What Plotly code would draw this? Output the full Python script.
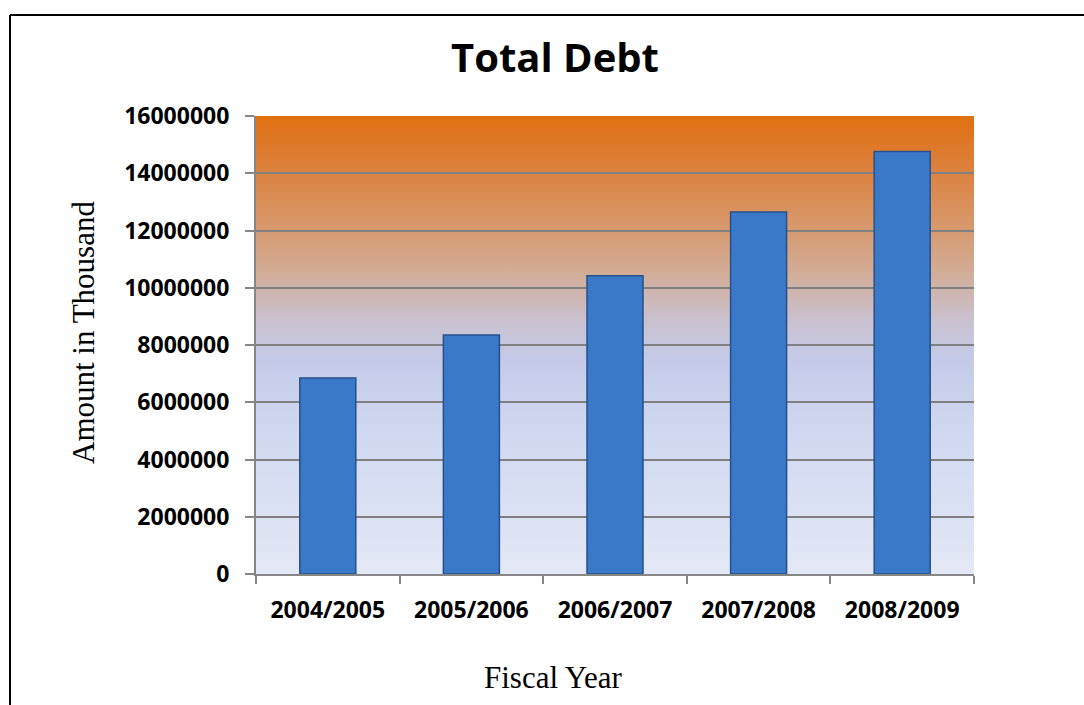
import base64
import plotly.graph_objects as go

categories = ["2004/2005", "2005/2006", "2006/2007", "2007/2008", "2008/2009"]
total_debt = [6850000, 8350000, 10420000, 12650000, 14760000]
y_ticks = [0, 2000000, 4000000, 6000000, 8000000, 10000000, 12000000, 14000000, 16000000]

W, H = 1084, 705
PL, PR, PT, PB = 256, 974, 116, 574  # plot area in pixels

xdom = [PL / W, PR / W]
ydom = [(H - PB) / H, (H - PT) / H]

fig = go.Figure()
fig.add_trace(go.Bar(
    x=categories, y=total_debt, width=0.39,
    marker=dict(color="rgb(58,120,200)", line=dict(color="rgb(38,80,140)", width=1.5)),
    showlegend=False,
))

# background gradient (orange top -> light blue bottom), offsets measured from top
grad_stops = [
    (0.00, "rgb(224,112,16)"),
    (0.10, "rgb(221,126,56)"),
    (0.22, "rgb(216,148,100)"),
    (0.34, "rgb(210,172,150)"),
    (0.44, "rgb(202,192,205)"),
    (0.53, "rgb(196,202,232)"),
    (0.70, "rgb(208,217,241)"),
    (1.00, "rgb(228,232,246)"),
]
stop_xml = "".join('<stop offset="%g" stop-color="%s"/>' % (o, c) for o, c in grad_stops)
svg = ('<svg xmlns="http://www.w3.org/2000/svg" width="100" height="100" preserveAspectRatio="none">'
       '<defs><linearGradient id="g" x1="0" y1="0" x2="0" y2="1">' + stop_xml +
       '</linearGradient></defs><rect width="100" height="100" fill="url(#g)"/></svg>')
svg_uri = "data:image/svg+xml;base64," + base64.b64encode(svg.encode()).decode()

shapes = [
    dict(type="line", xref="paper", yref="paper", x0=10 / W, x1=1.0, y0=(H - 15) / H, y1=(H - 15) / H,
         line=dict(color="black", width=2)),
    dict(type="line", xref="paper", yref="paper", x0=10 / W, x1=10 / W, y0=0, y1=(H - 15) / H,
         line=dict(color="black", width=2)),
]

fig.update_layout(
    width=W, height=H,
    margin=dict(l=0, r=0, t=0, b=0),
    paper_bgcolor="white", plot_bgcolor="rgba(0,0,0,0)",
    shapes=shapes,
    showlegend=False,
    images=[dict(source=svg_uri, xref="paper", yref="paper",
                 x=xdom[0], y=ydom[1], sizex=xdom[1] - xdom[0], sizey=ydom[1] - ydom[0],
                 xanchor="left", yanchor="top", sizing="stretch", layer="below")],
    annotations=[
        dict(text="<b>Total Debt</b>", x=555 / W, y=(H - 56) / H, xref="paper", yref="paper",
             showarrow=False, xanchor="center", yanchor="middle",
             font=dict(family="Open Sans", size=40, color="black")),
        dict(text="Amount in Thousand", x=83 / W, y=(H - 333) / H, xref="paper", yref="paper",
             showarrow=False, xanchor="center", yanchor="middle", textangle=-90,
             font=dict(family="Liberation Serif", size=31, color="black")),
        dict(text="Fiscal Year", x=553 / W, y=(H - 677) / H, xref="paper", yref="paper",
             showarrow=False, xanchor="center", yanchor="middle",
             font=dict(family="Liberation Serif", size=31, color="black")),
    ],
)

fig.update_xaxes(
    domain=xdom, type="category", automargin=False,
    showline=True, linecolor="rgb(134,134,134)", linewidth=2,
    ticks="outside", tickson="boundaries", ticklen=8, tickcolor="rgb(134,134,134)", tickwidth=2,
    showgrid=False, zeroline=False,
    tickfont=dict(family="Open Sans", size=23, color="black", weight="bold"),
    ticklabelstandoff=14,
)
fig.update_yaxes(
    domain=ydom, range=[0, 16000000], automargin=False,
    tickmode="array", tickvals=y_ticks, ticktext=[str(v) for v in y_ticks],
    showline=True, linecolor="rgb(134,134,134)", linewidth=2,
    ticks="outside", ticklen=9, tickcolor="rgb(134,134,134)", tickwidth=2,
    showgrid=True, gridcolor="rgb(128,128,128)", gridwidth=1.5, zeroline=False,
    tickfont=dict(family="Open Sans", size=23, color="black", weight="bold"),
    ticklabelstandoff=11,
)

fig.write_html("out.html")
